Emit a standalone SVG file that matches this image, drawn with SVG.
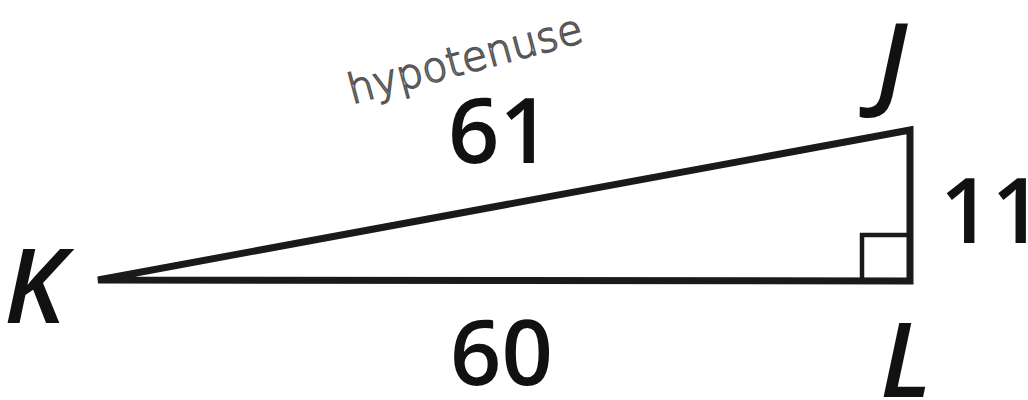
<svg xmlns="http://www.w3.org/2000/svg" width="1028" height="400" viewBox="0 0 1028 400">
<style>
.num{font-family:"Open Sans","Noto Sans",sans-serif;font-weight:600;font-size:90px;fill:#111}
.vtx{font-family:"Open Sans","Noto Sans",sans-serif;font-style:italic;font-weight:600;font-size:104px;fill:#111}
.hand{font-family:"DejaVu Sans","Noto Sans",sans-serif;font-weight:300;font-size:41px;fill:none;stroke:#555;stroke-width:1.6}
.edge{fill:none;stroke:#1a1a1a;stroke-width:7;stroke-linejoin:miter}
</style>
<rect width="1028" height="400" fill="#fff"/>
<g id="connectors">
<polygon class="edge" points="98,280 910,130 910,281"/>
<polyline class="edge" points="862,281 862,235 910,235" style="stroke-width:4.5"/>
</g>
<g id="node-K"><text class="vtx" x="4" y="323">K</text></g>
<g id="node-J"><text class="vtx" x="876" y="97">J</text></g>
<g id="node-L"><text class="vtx" x="880" y="397">L</text></g>
<g id="label-61"><text class="num" x="448" y="163">61</text></g>
<g id="label-60"><text class="num" x="450" y="385">60</text></g>
<g id="label-11"><text class="num" x="940" y="243">11</text></g>
<g id="label-hyp"><text class="hand" x="352" y="104" transform="rotate(-15 352 104)">hypotenuse</text></g>
</svg>
